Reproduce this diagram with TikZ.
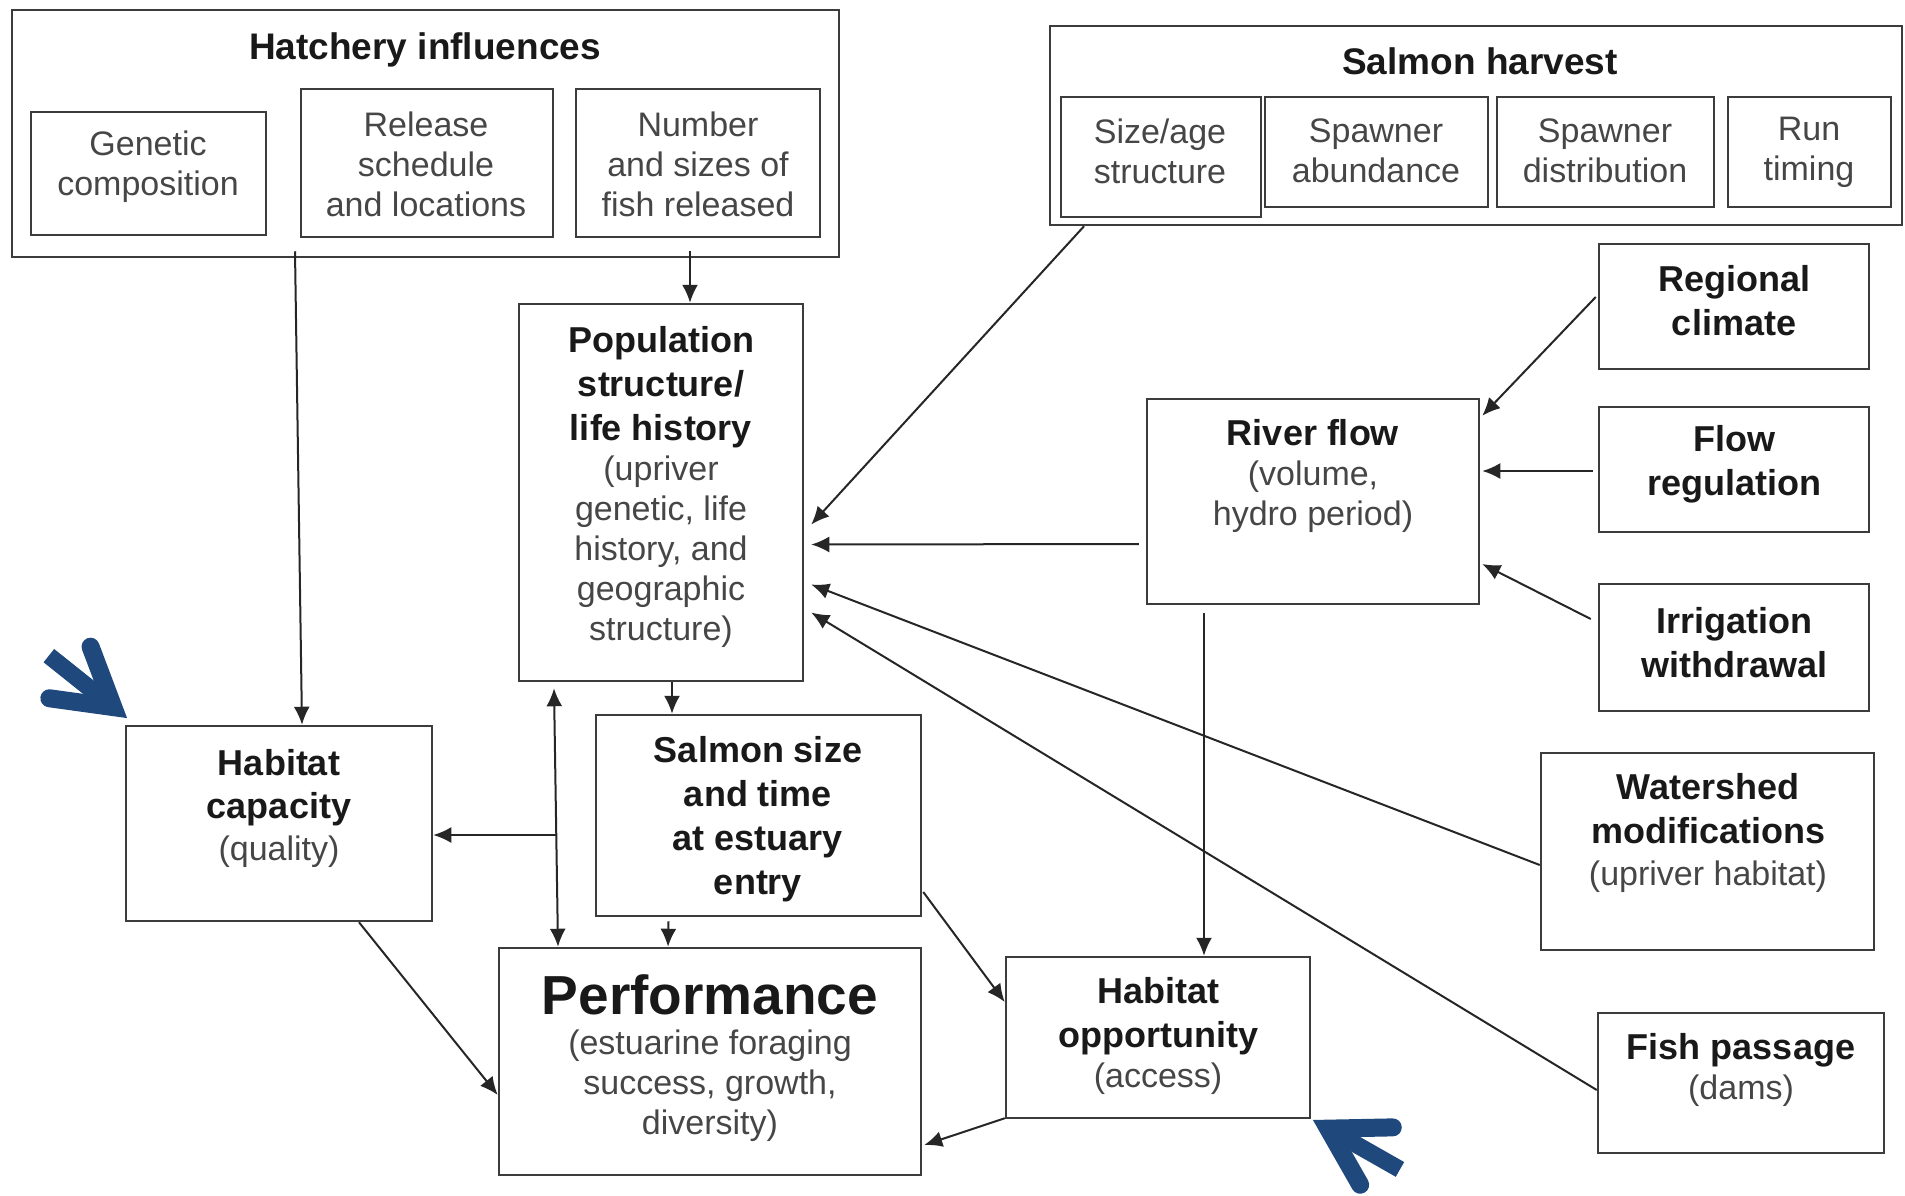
\documentclass[tikz,border=0pt]{standalone}
\usepackage{fontspec}
\setmainfont{Liberation Sans}
\usepackage{tikz}
\usetikzlibrary{arrows.meta}
\usetikzlibrary{calc}
\definecolor{boxgray}{RGB}{60,60,60}
\definecolor{subgray}{RGB}{70,70,70}
\definecolor{pointerblue}{RGB}{31,73,125}
\newcommand{\titlefont}{\fontsize{37}{44}\selectfont\bfseries\color{black!90}}
\newcommand{\boxhead}{\fontsize{36}{42}\selectfont\bfseries\color{black!90}}
\newcommand{\boxsub}{\fontsize{34}{40}\selectfont\mdseries}
\newcommand{\bluepointer}[2]{%
  \begin{scope}[shift={#1},rotate=#2]
    \draw [pointerblue, line width=18pt, line cap=round, line join=miter] (-73,-33) -- (-17.5,0) -- (-73,33);
    \draw [pointerblue, line width=17pt] (-100,0) -- (-30,0);
  \end{scope}}

\begin{document}
\begin{tikzpicture}[x=1pt,y=-1pt,
  box/.style={draw=boxgray, line width=2.5pt, inner sep=0pt},
  txt/.style={align=center, inner sep=0pt, font=\boxsub, text=subgray},
  arr/.style={draw=black!85, line width=2pt, -{Latex[length=18pt, width=16pt]}},
  arrboth/.style={draw=black!85, line width=2pt, {Latex[length=18pt, width=16pt]}-{Latex[length=18pt, width=16pt]}}]
\useasboundingbox (0,0) rectangle (1905,1195);
% hatchery group
\node[box, minimum width=827pt, minimum height=247pt] (hatch) at (425.5,133.5) {};
\node[box, minimum width=235pt, minimum height=123pt] (gen) at (148.5,173.5) {};
\node[box, minimum width=252pt, minimum height=148pt] (rel) at (427,163) {};
\node[box, minimum width=244pt, minimum height=148pt] (num) at (698,163) {};
\node[txt] (hatchT) at (425,50) {\titlefont Hatchery influences};
\node[txt] (genT) at (148,167) {Genetic\\ composition};
\node[txt] (relT) at (426,164) {Release\\ schedule\\ and locations};
\node[txt] (numT) at (698,164) {Number\\ and sizes of\\ fish released};
% harvest group
\node[box, minimum width=852pt, minimum height=199pt] (harv) at (1476,125.5) {};
\node[box, minimum width=200pt, minimum height=120pt] (size) at (1161,157) {};
\node[box, minimum width=223pt, minimum height=110pt] (abund) at (1376.5,152) {};
\node[box, minimum width=217pt, minimum height=110pt] (dist) at (1605.5,152) {};
\node[box, minimum width=163pt, minimum height=110pt] (run) at (1809.5,152) {};
\node[txt] (harvT) at (1480,61) {\titlefont Salmon harvest};
\node[txt] (sizeT) at (1160,151) {Size/age\\ structure};
\node[txt] (abundT) at (1376,151) {Spawner\\ abundance};
\node[txt] (distT) at (1605,151) {Spawner\\ distribution};
\node[txt] (runT) at (1809,152) {Run\\ timing};
% middle boxes
\node[box, minimum width=284pt, minimum height=377pt] (pop) at (661,492.5) {};
\node[txt] (popT) at (661,487) {\boxhead Population\\[4pt] \boxhead structure/\\[4pt] \boxhead life history\\ (upriver\\ genetic, life\\ history, and\\ geographic\\ structure)};
\node[box, minimum width=332pt, minimum height=205pt] (river) at (1313,501.5) {};
\node[txt] (riverT) at (1313,476) {\boxhead River flow\\ (volume,\\ hydro period)};
\node[box, minimum width=306pt, minimum height=195pt] (habcap) at (279,823.5) {};
\node[txt] (habcapT) at (279,808.5) {\boxhead Habitat\\[3pt] \boxhead capacity\\[2pt] (quality)};
\node[box, minimum width=325pt, minimum height=201pt] (salm) at (758.5,815.5) {};
\node[txt] (salmT) at (758,819) {\boxhead Salmon size\\[4pt] \boxhead and time\\[4pt] \boxhead at estuary\\[4pt] \boxhead entry};
\node[box, minimum width=422pt, minimum height=227pt] (perf) at (710,1061.5) {};
\node[txt] (perfT) at (710,1058) {\fontsize{55}{62}\selectfont\bfseries\color{black!90}Performance\\ (estuarine foraging\\ success, growth,\\ diversity)};
\node[box, minimum width=304pt, minimum height=161pt] (habopp) at (1158,1037.5) {};
\node[txt] (habopT) at (1158,1036) {\boxhead Habitat\\[4pt] \boxhead opportunity\\ (access)};
% right column
\node[box, minimum width=270pt, minimum height=125pt] (clim) at (1734,306.5) {};
\node[txt] (climT) at (1734,301) {\boxhead Regional\\[4pt] \boxhead climate};
\node[box, minimum width=270pt, minimum height=125pt] (flowreg) at (1734,469.5) {};
\node[txt] (flowT) at (1734,464) {\boxhead Flow\\[4pt] \boxhead regulation};
\node[box, minimum width=270pt, minimum height=127pt] (irrig) at (1734,647.5) {};
\node[txt] (irrT) at (1734,643) {\boxhead Irrigation\\[4pt] \boxhead withdrawal};
\node[box, minimum width=333pt, minimum height=197pt] (water) at (1707.5,851.5) {};
\node[txt] (waterT) at (1708,833) {\boxhead Watershed\\[4pt] \boxhead modifications\\[2pt] (upriver habitat)};
\node[box, minimum width=286pt, minimum height=140pt] (fish) at (1741,1083) {};
\node[txt] (fishT) at (1741,1070) {\boxhead Fish passage\\ (dams)};
% connectors
\draw [arr] ($(hatch.south)+(-130.5,-7)$) -- ($(habcap.north)+(23,0)$);
\draw [arr] ($(num.south)+(-8,13)$) -- ($(pop.north)+(29,0)$);
\draw [arr] ($(size.south)+(-77,8)$) -- ($(pop.east)+(7,32)$);
\draw [arr] ($(river.west)+(-7,42.5)$) -- ($(pop.east)+(7,52)$);
\draw [arr] ($(water.west)+(0,13.5)$) -- ($(pop.east)+(7,92)$);
\draw [arr] ($(fish.west)+(0,7)$) -- ($(pop.east)+(7,120)$);
\draw [arr] ($(clim.west)+(-2,-9.5)$) -- ($(river.north east)+(2,18)$);
\draw [arr] ($(flowreg.west)+(-5,1.5)$) -- ($(river.east)+(2,-30.5)$);
\draw [arr] ($(irrig.west)+(-7,-28.5)$) -- ($(river.east)+(2,62.5)$);
\draw [arr] ($(river.south)+(-109,8)$) -- ($(habopp.north)+(46,0)$);
\draw [arr] ($(pop.south)+(11,0)$) -- ($(salm.north)+(-86.5,0)$);
\draw [arrboth] ($(pop.south)+(-107,6)$) -- ($(perf.north)+(-152,0)$);
\coordinate (junc) at (556,835);
\draw [arr] (junc) -- (habcap.east |- junc);
\draw [arr] ($(salm.south)+(-90,4)$) -- ($(perf.north)+(-42,0)$);
\draw [arr] ($(habcap.south)+(80,0)$) -- ($(perf.west)+(0,33.5)$);
\draw [arr] ($(salm.east)+(1,76.5)$) -- ($(habopp.west)+(0,-35.5)$);
\draw [arr] ($(habopp.south west)+(0,-1)$) -- ($(perf.east)+(2,83.5)$);
% blue pointers
\bluepointer{(127,718)}{-38.6}
\bluepointer{(1313,1120)}{150.4}
\end{tikzpicture}
\end{document}
